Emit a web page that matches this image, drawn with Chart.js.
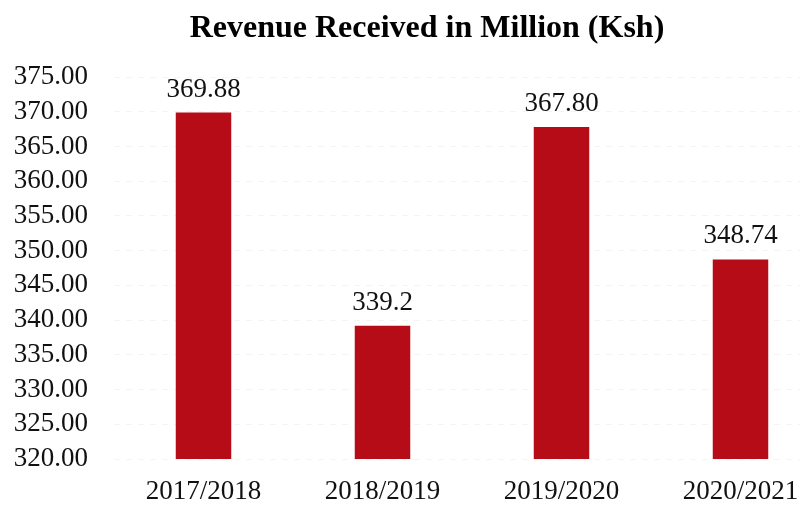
<!DOCTYPE html>
<html>
<head>
<meta charset="utf-8">
<script src="https://cdn.jsdelivr.net/npm/chart.js@4/dist/chart.umd.min.js"></script>
<style>
  html, body { margin: 0; padding: 0; background: #fff; overflow: hidden; }
  #wrap { position: absolute; left: 0; top: 0; }
</style>
</head>
<body>
<div id="wrap"><canvas id="chart" width="840" height="505"></canvas></div>
<script>
const titleText = 'Revenue Received in Million (Ksh)';
const years = ['2017/2018', '2018/2019', '2019/2020', '2020/2021'];
const revenue = [369.88, 339.2, 367.80, 348.74];
const revenueLabels = ['369.88', '339.2', '367.80', '348.74'];

const serif = '"Liberation Serif", "Times New Roman", serif';

// titulo centrado sobre la imagen, no sobre el canvas
const titlePlugin = {
  id: 'pageTitle',
  afterDraw(chart) {
    const ctx = chart.ctx;
    ctx.save();
    ctx.font = 'bold 32px ' + serif;
    ctx.fillStyle = '#000';
    ctx.textAlign = 'center';
    ctx.textBaseline = 'alphabetic';
    ctx.fillText(titleText, 427, 37);
    ctx.restore();
  }
};

// valores encima de cada barra
const valuePlugin = {
  id: 'barValues',
  afterDatasetsDraw(chart) {
    const ctx = chart.ctx;
    const meta = chart.getDatasetMeta(0);
    ctx.save();
    ctx.font = '27px ' + serif;
    ctx.fillStyle = '#111';
    ctx.textAlign = 'center';
    ctx.textBaseline = 'alphabetic';
    meta.data.forEach((bar, i) => {
      ctx.fillText(revenueLabels[i], bar.x, bar.y - 16);
    });
    ctx.restore();
  }
};

new Chart(document.getElementById('chart').getContext('2d'), {
  type: 'bar',
  data: {
    labels: years,
    datasets: [{
      data: revenue,
      backgroundColor: '#b50c17',
      borderWidth: 0,
      barPercentage: 0.31,
      categoryPercentage: 1
    }]
  },
  options: {
    responsive: false,
    animation: false,
    layout: { padding: { top: 77, right: 10, left: 0, bottom: 0 } },
    plugins: {
      legend: { display: false },
      title: { display: false },
      tooltip: { enabled: false }
    },
    scales: {
      x: {
        grid: { display: false, drawTicks: false },
        border: { display: false },
        ticks: { color: '#111', font: { family: serif, size: 27 }, padding: 17, maxRotation: 0, autoSkip: false },
        afterFit(scale) { scale.height = 46; }
      },
      y: {
        min: 320,
        max: 375,
        grid: { color: '#f4f4f4', drawTicks: false },
        border: { display: false, dash: [6, 6] },
        ticks: {
          stepSize: 5,
          autoSkip: false,
          color: '#111',
          padding: 26,
          font: { family: serif, size: 27 },
          callback: v => Number(v).toFixed(2)
        },
        afterFit(scale) { scale.width = 114; }
      }
    }
  },
  plugins: [titlePlugin, valuePlugin]
});
</script>
</body>
</html>
